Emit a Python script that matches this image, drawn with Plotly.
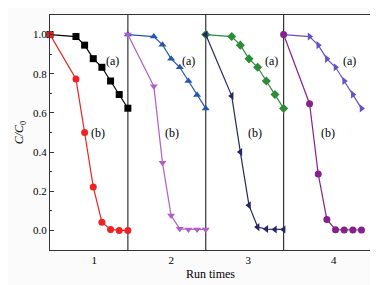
import plotly.graph_objects as go

# time points within each run (min) and run offsets
times = [0, 30, 40, 50, 60, 70, 80, 90]
run_offsets = [0, 90, 180, 270]

# (a) curves for each run
a_run1 = [1.0, 0.99, 0.946, 0.877, 0.833, 0.763, 0.694, 0.624]
a_run2 = [1.0, 0.99, 0.948, 0.876, 0.833, 0.763, 0.692, 0.623]
a_run3 = [1.0, 0.99, 0.946, 0.876, 0.833, 0.763, 0.694, 0.623]
a_run4 = [1.0, 0.99, 0.946, 0.876, 0.833, 0.763, 0.694, 0.623]

# (b) curves for each run
b_run1 = [1.0, 0.773, 0.50, 0.222, 0.042, 0.005, 0.0, 0.0]
b_run2 = [1.0, 0.736, 0.345, 0.076, 0.008, 0.005, 0.005, 0.005]
b_run3 = [1.0, 0.687, 0.40, 0.128, 0.017, 0.007, 0.005, 0.005]
b_run4 = [1.0, 0.647, 0.288, 0.056, 0.004, 0.002, 0.002, 0.002]

run_labels = ["1", "2", "3", "4"]
run_label_pos = [51, 140, 229, 328]

series = [
    (a_run1, 0, "#000000", "square"),
    (b_run1, 0, "#ee2222", "circle"),
    (a_run2, 1, "#2656ad", "triangle-up"),
    (b_run2, 1, "#b060c2", "triangle-down"),
    (a_run3, 2, "#2e8b3a", "diamond"),
    (b_run3, 2, "#272766", "triangle-left"),
    (a_run4, 3, "#6650c4", "triangle-right"),
    (b_run4, 3, "#85208c", "circle"),
]

fig = go.Figure()
for vals, run, color, sym in series:
    xs = [t + run_offsets[run] for t in times]
    fig.add_trace(go.Scatter(
        x=xs, y=vals, mode="lines+markers",
        line=dict(color=color, width=1.2),
        marker=dict(symbol=sym, size=7, color=color),
        cliponaxis=False, showlegend=False,
    ))

for off in run_offsets[1:]:
    fig.add_shape(type="line", xref="x", yref="paper", x0=off, x1=off, y0=0, y1=1,
                  line=dict(color="#333333", width=1.2), layer="below")

font = "Liberation Serif"
a_pos = [72.6, 160, 255.8, 346.5]
b_pos = [56, 140.5, 237, 321]
for xa in a_pos:
    fig.add_annotation(x=xa, y=0.867, text="(a)", showarrow=False,
                       font=dict(family=font, size=12, color="#000"))
for xb in b_pos:
    fig.add_annotation(x=xb, y=0.498, text="(b)", showarrow=False,
                       font=dict(family=font, size=12, color="#000"))

fig.update_layout(
    width=370, height=277,
    margin=dict(l=42, r=6, t=6, b=33),
    paper_bgcolor="#fbfbfb", plot_bgcolor="#ffffff",
    font=dict(family=font, size=11, color="#000"),
    xaxis=dict(range=[0, 371], showgrid=False, zeroline=False,
               tickmode="array", tickvals=run_label_pos, ticktext=run_labels,
               tickfont=dict(family=font, size=11),
               ticks="", showline=True, linecolor="#333", linewidth=1.2, mirror=True,
               title=dict(text="Run times", font=dict(family=font, size=12), standoff=4)),
    yaxis=dict(range=[-0.1, 1.1], showgrid=False, zeroline=False,
               tickmode="array", tickvals=[0, 0.2, 0.4, 0.6, 0.8, 1.0],
               ticktext=["0.0", "0.2", "0.4", "0.6", "0.8", "1.0"],
               tickfont=dict(family=font, size=11),
               ticks="inside", ticklen=4, tickcolor="#333",
               minor=dict(ticks="inside", ticklen=2, tickcolor="#333", dtick=0.1),
               showline=True, linecolor="#333", linewidth=1.2, mirror=True,
               title=dict(text="<i>C/C</i><sub>0</sub>", font=dict(family=font, size=12), standoff=6)),
)

fig.write_html("out.html")
